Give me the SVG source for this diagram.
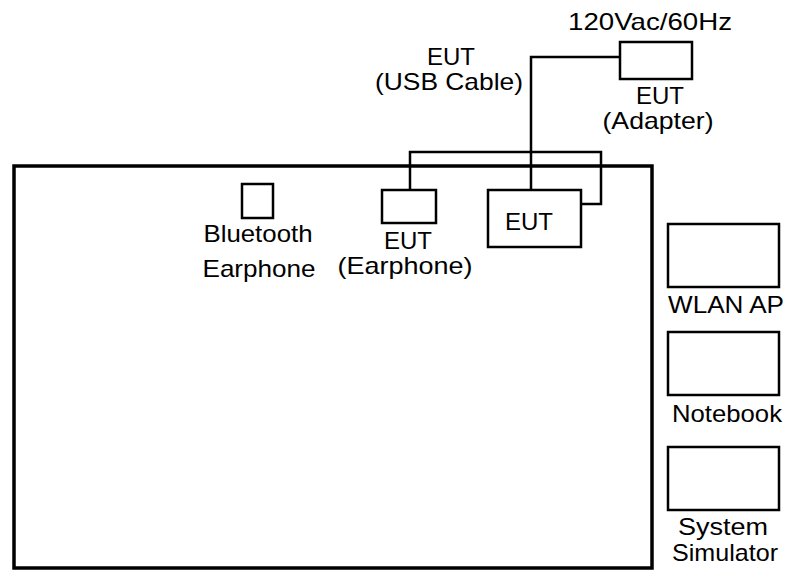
<svg xmlns="http://www.w3.org/2000/svg" width="786" height="570" viewBox="0 0 786 570">
<style>
.box{fill:#fff;stroke:#000;stroke-width:2.5}
.big{fill:#fff;stroke:#000;stroke-width:3.5}
.wire{fill:none;stroke:#000;stroke-width:2.5}
text{font-family:"Liberation Sans",Arial,sans-serif;font-size:24px;fill:#000;text-anchor:middle}
</style>
<rect width="786" height="570" fill="#fff"/>
<g id="table"><rect class="big" x="14" y="166" width="638" height="402"/></g>
<g id="connectors">
<polyline class="wire" points="620,57 531,57 531,190"/>
<polyline class="wire" points="410,190 410,152 601,152 601,204 581,204"/>
</g>
<g id="adapter">
<rect class="box" x="620" y="42" width="72" height="37"/>
<text x="650" y="30" textLength="164" lengthAdjust="spacingAndGlyphs">120Vac/60Hz</text>
<text x="660" y="104">EUT</text>
<text x="658" y="129" textLength="111" lengthAdjust="spacingAndGlyphs">(Adapter)</text>
</g>
<g id="usb">
<text x="451" y="65">EUT</text>
<text x="449" y="90" textLength="148" lengthAdjust="spacingAndGlyphs">(USB Cable)</text>
</g>
<g id="eut">
<rect class="box" x="488" y="190" width="93" height="57"/>
<text x="529" y="230">EUT</text>
</g>
<g id="earphone">
<rect class="box" x="382" y="190" width="54" height="33"/>
<text x="408" y="249">EUT</text>
<text x="405" y="274" textLength="135" lengthAdjust="spacingAndGlyphs">(Earphone)</text>
</g>
<g id="bluetooth">
<rect class="box" x="242" y="184" width="31" height="34"/>
<text x="258" y="242" textLength="109" lengthAdjust="spacingAndGlyphs">Bluetooth</text>
<text x="259" y="277" textLength="113" lengthAdjust="spacingAndGlyphs">Earphone</text>
</g>
<g id="wlan">
<rect class="box" x="668" y="224" width="111" height="63"/>
<text x="726" y="313" textLength="116" lengthAdjust="spacingAndGlyphs">WLAN AP</text>
</g>
<g id="notebook">
<rect class="box" x="668" y="332" width="111" height="63"/>
<text x="727" y="422" textLength="110" lengthAdjust="spacingAndGlyphs">Notebook</text>
</g>
<g id="simulator">
<rect class="box" x="668" y="447" width="111" height="63"/>
<text x="723" y="535" textLength="90" lengthAdjust="spacingAndGlyphs">System</text>
<text x="725" y="561" textLength="106" lengthAdjust="spacingAndGlyphs">Simulator</text>
</g>
</svg>
